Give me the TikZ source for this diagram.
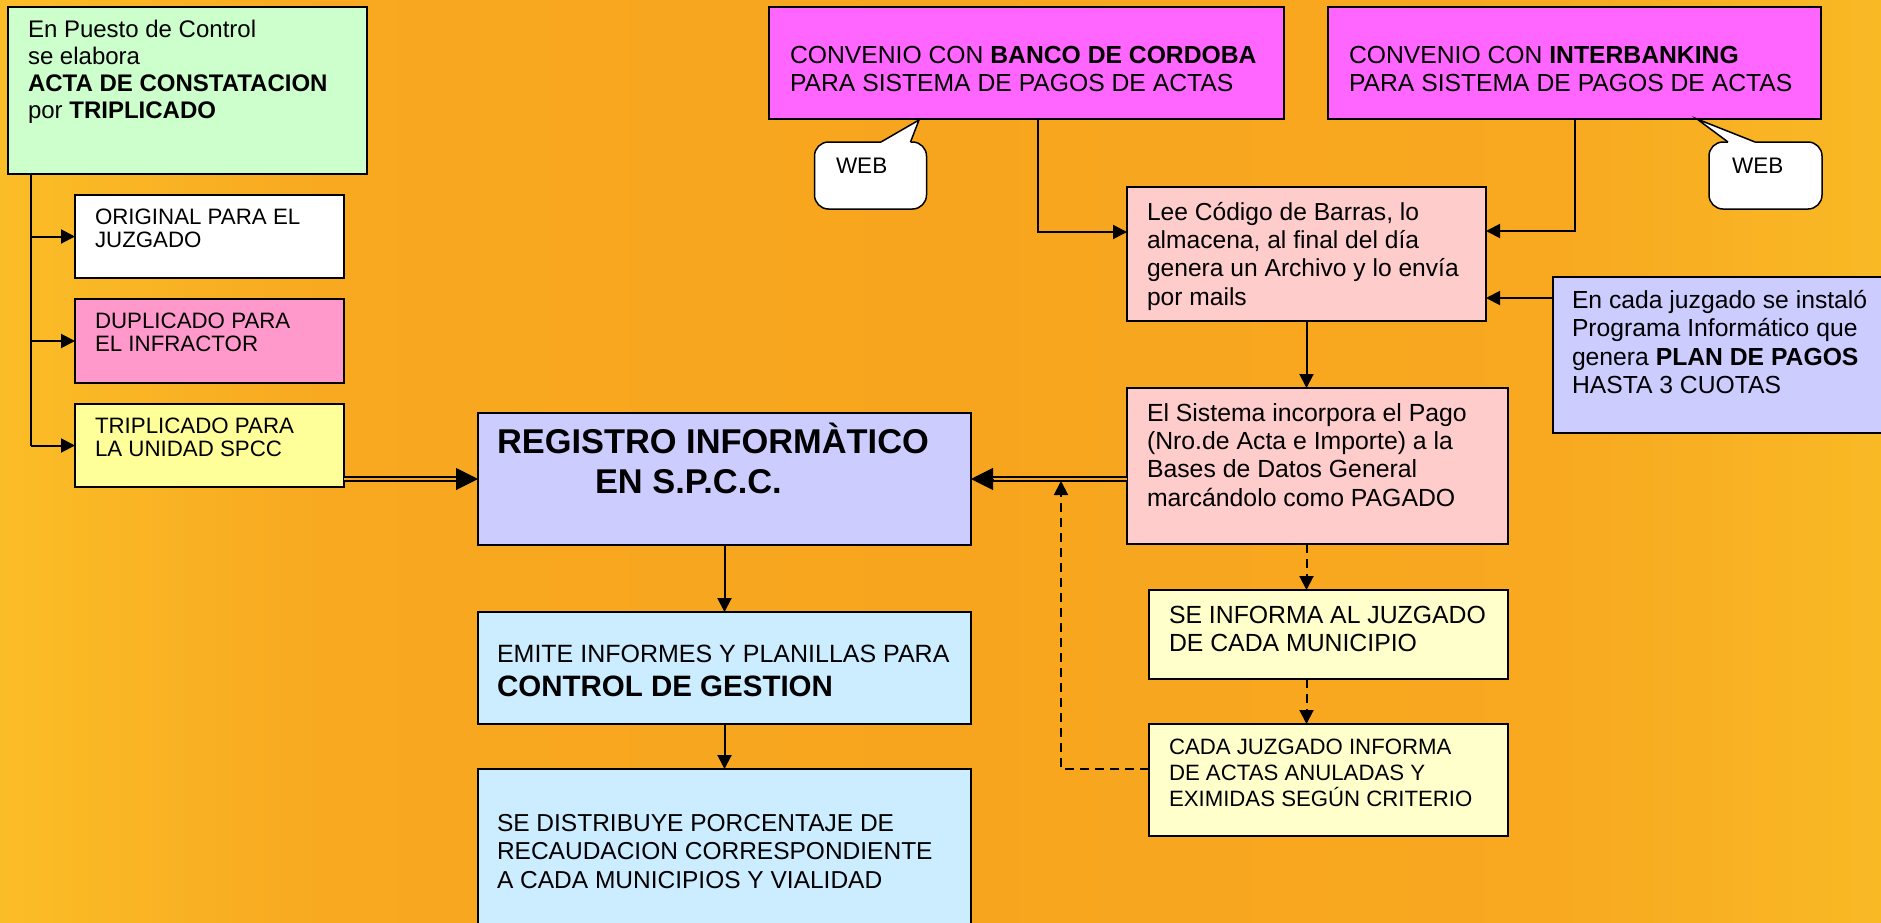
\documentclass[tikz,border=0pt]{standalone}
\usepackage{fontspec}
\setmainfont{Liberation Sans}
\usetikzlibrary{arrows.meta,fit,calc}
\definecolor{bgL}{RGB}{251,189,39}
\definecolor{bgM}{RGB}{248,169,32}
\definecolor{bgC}{RGB}{247,165,30}
\definecolor{bgR}{RGB}{249,185,37}
\definecolor{cGreen}{RGB}{204,255,204}
\definecolor{cPink}{RGB}{255,153,204}
\definecolor{cYellow}{RGB}{255,255,153}
\definecolor{cLav}{RGB}{204,204,255}
\definecolor{cSky}{RGB}{204,236,255}
\definecolor{cMag}{RGB}{255,102,255}
\definecolor{cRose}{RGB}{255,204,204}
\definecolor{cCream}{RGB}{255,255,204}
\pgfdeclarehorizontalshading{bgshade}{100bp}{color(0bp)=(bgL); color(25bp)=(bgL); color(33.5bp)=(bgM); color(50bp)=(bgC); color(66.5bp)=(bgM); color(75bp)=(bgR); color(100bp)=(bgR)}
\newcommand{\mytxt}[3]{\parbox[t]{340pt}{\fontsize{#1}{#2}\selectfont #3}}
\begin{document}
\begin{tikzpicture}[x=0.5pt,y=-0.5pt,
  box/.style={draw=black, line width=0.75pt, inner sep=0pt, outer sep=0pt},
  txt/.style={anchor=base west, inner sep=0pt, outer sep=0pt},
  conn/.style={draw=black, line width=1pt},
  arr/.style={conn, -{Triangle[length=7pt,width=7pt]}},
  darr/.style={arr, dash pattern=on 4.5pt off 3pt},
  dbl/.style={draw=black, line width=0.75pt, double=bgC, double distance=1.25pt},
  bigtip/.style={draw=black, line width=0.5pt, -{Triangle[length=11pt,width=11pt]}},
  pointer/.style={draw=black, line width=0.75pt, line join=miter}]
\useasboundingbox (0,0) rectangle (1881,922);
\clip (0,0) rectangle (1881,922);
\shade[shading=bgshade] (0,0) rectangle (1881,922);

% boxes
\node[box, fill=cGreen, fit={(8,7) (367,174)}] (green) {};
\node[box, fill=white, fit={(75,195) (344,278)}] (orig) {};
\node[box, fill=cPink, fit={(75,299) (344,383)}] (dup) {};
\node[box, fill=cYellow, fit={(75,404) (344,487)}] (trip) {};
\node[box, fill=cLav, fit={(478,413) (971,545)}] (reg) {};
\node[box, fill=cSky, fit={(478,612) (971,724)}] (emite) {};
\node[box, fill=cSky, fit={(478,769) (971,940)}] (dist) {};
\node[box, fill=cMag, fit={(769,7) (1284,119)}] (banco) {};
\node[box, fill=cMag, fit={(1328,7) (1821,119)}] (inter) {};
\node[box, fill=cRose, fit={(1127,187) (1486,321)}] (lee) {};
\node[box, fill=cRose, fit={(1127,388) (1508,544)}] (sis) {};
\node[box, fill=cLav, fit={(1553,277) (1900,433)}] (plan) {};
\node[box, fill=cCream, fit={(1149,590) (1508,679)}] (info) {};
\node[box, fill=cCream, fit={(1149,724) (1508,836)}] (cada) {};

% callouts
\node[box, fill=white, rounded corners=7pt, fit={(814.5,142) (926.5,209)}] (web1) {};
\fill[white] (881,144) -- (881,142) -- (919,120) -- (910.5,142) -- (910.5,144) -- cycle;
\draw[pointer] (881,142) -- (919,120) -- (910.5,142);
\node[box, fill=white, rounded corners=7pt, fit={(1709,142) (1822,209)}] (web2) {};
\fill[white] (1728,144) -- (1728,142) -- (1697,119) -- (1755,142) -- (1755,144) -- cycle;
\draw[pointer] (1728,142) -- (1697,119) -- (1755,142);

% connectors
\coordinate (trunk) at (31,174);
\draw[conn] (trunk) -- (trunk |- trip.west);
\draw[arr] (trunk |- orig.west) -- (orig.west);
\draw[arr] (trunk |- dup.west) -- (dup.west);
\draw[arr] (trunk |- trip.west) -- (trip.west);

\draw[dbl] (reg.west -| trip.east) -- ([xshift=-10pt]reg.west);
\draw[bigtip] ([xshift=-11pt]reg.west) -- (reg.west);
\draw[dbl] (reg.east -| sis.west) -- ([xshift=10pt]reg.east);
\draw[bigtip] ([xshift=11pt]reg.east) -- (reg.east);

\draw[arr] (reg.south) -- (emite.north);
\draw[arr] (emite.south) -- (dist.north);

\draw[arr] ([xshift=5.75pt]banco.south) |- ([yshift=11pt]lee.west);
\draw[arr] (inter.south) |- ([yshift=11.5pt]lee.east);
\path ([yshift=-22pt]lee.east) coordinate (leeR2);
\draw[arr] (plan.west |- leeR2) -- (leeR2);
\draw[arr] (lee.south) -- (lee.south |- sis.north);
\draw[darr] (lee.south |- sis.south) -- (lee.south |- info.north);
\draw[darr] (lee.south |- info.south) -- (lee.south |- cada.north);
\coordinate (dtip) at (1061,481);
\draw[darr] ([yshift=5.5pt]cada.west) -| (dtip);

% texts
\node[txt] (green-t) at (28,37) {\mytxt{12pt}{13.5pt}{En Puesto de Control\\se elabora\\\textbf{ACTA DE CONSTATACION}\\por \textbf{TRIPLICADO}}};
\node[txt] (orig-t) at (95,224) {\mytxt{11.15pt}{11.5pt}{ORIGINAL PARA EL\\JUZGADO}};
\node[txt] (dup-t) at (95,328) {\mytxt{11.15pt}{11.5pt}{DUPLICADO PARA\\EL INFRACTOR}};
\node[txt] (trip-t) at (95,433) {\mytxt{11.15pt}{11.5pt}{TRIPLICADO PARA\\LA UNIDAD SPCC}};
\node[txt] (reg-t) at (497,453) {\mytxt{17.2pt}{20pt}{\bfseries REGISTRO INFORMÀTICO\\\hspace*{49pt}EN S.P.C.C.}};
\node[txt] (emite-t) at (497,662) {\mytxt{12.5pt}{17pt}{EMITE INFORMES Y PLANILLAS PARA\\{\fontsize{14.75pt}{17pt}\selectfont\bfseries CONTROL DE GESTION}}};
\node[txt] (dist-t) at (497,831) {\mytxt{12.25pt}{14.25pt}{SE DISTRIBUYE PORCENTAJE DE\\RECAUDACION CORRESPONDIENTE\\A CADA MUNICIPIOS Y VIALIDAD}};
\node[txt] (banco-t) at (790,63) {\mytxt{12.35pt}{14.25pt}{CONVENIO CON \textbf{BANCO DE CORDOBA}\\PARA SISTEMA DE PAGOS DE ACTAS}};
\node[txt] (inter-t) at (1349,63) {\mytxt{12.35pt}{14.25pt}{CONVENIO CON \textbf{INTERBANKING}\\PARA SISTEMA DE PAGOS DE ACTAS}};
\node[txt] (web1-t) at (836,173) {\mytxt{11.25pt}{13pt}{WEB}};
\node[txt] (web2-t) at (1732,173) {\mytxt{11.25pt}{13pt}{WEB}};
\node[txt] (lee-t) at (1147,220) {\mytxt{12.3pt}{14.2pt}{Lee Código de Barras, lo\\almacena, al final del día\\genera un Archivo y lo envía\\por mails}};
\node[txt] (sis-t) at (1147,421) {\mytxt{12.4pt}{14.2pt}{El Sistema incorpora el Pago\\(Nro.de Acta e Importe) a la\\Bases de Datos General\\marcándolo como PAGADO}};
\node[txt] (plan-t) at (1572,308) {\mytxt{12.35pt}{14.3pt}{En cada juzgado se instaló\\Programa Informático que\\genera \textbf{PLAN DE PAGOS}\\HASTA 3 CUOTAS}};
\node[txt] (info-t) at (1169,623) {\mytxt{12.4pt}{14pt}{SE INFORMA AL JUZGADO\\DE CADA MUNICIPIO}};
\node[txt] (cada-t) at (1169,754) {\mytxt{11.1pt}{13pt}{CADA JUZGADO INFORMA\\DE ACTAS ANULADAS Y\\EXIMIDAS SEGÚN CRITERIO}};
\end{tikzpicture}
\end{document}
